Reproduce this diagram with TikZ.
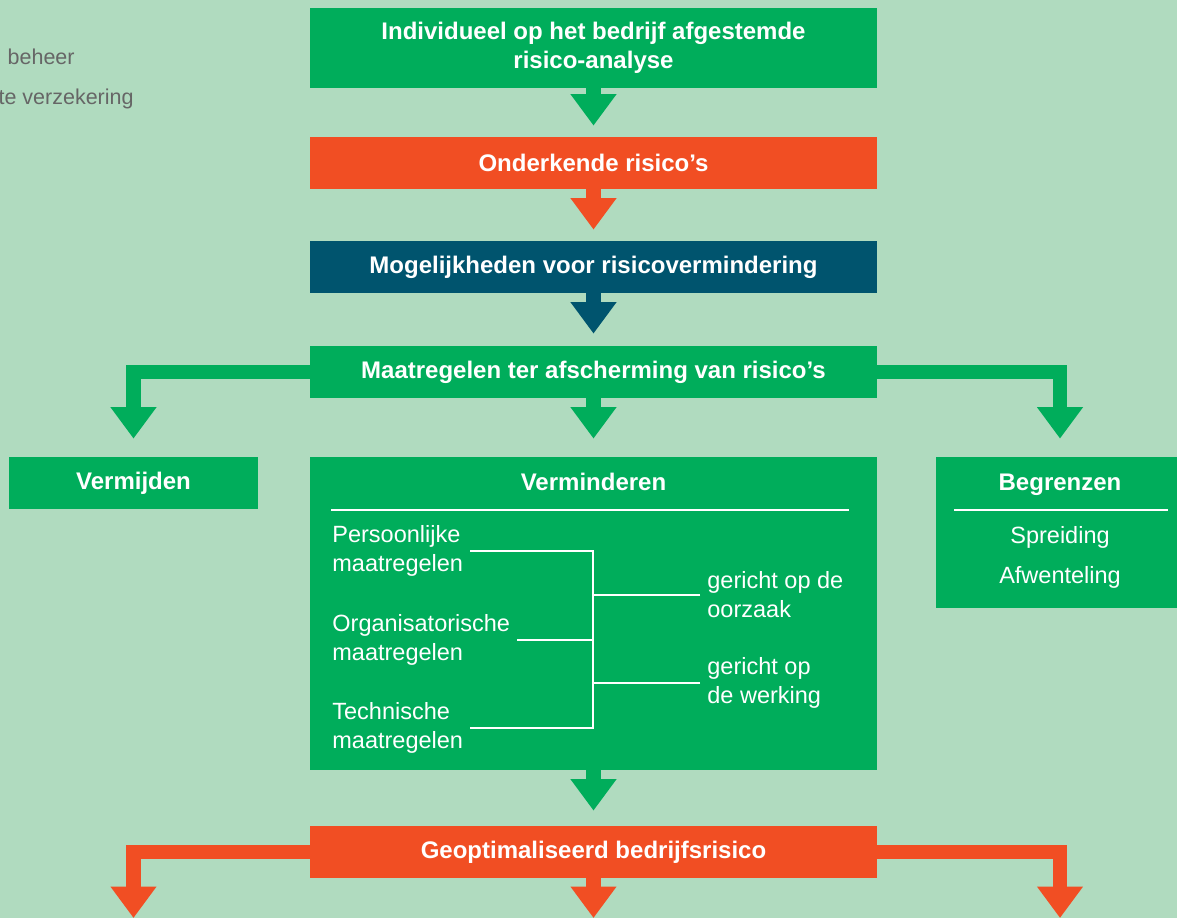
\documentclass[tikz,border=0pt]{standalone}
\usepackage{fontspec}
\setmainfont{Liberation Sans}
\usetikzlibrary{arrows.meta}
\definecolor{bgcol}{RGB}{176,219,191}
\definecolor{boxgreen}{RGB}{0,173,91}
\definecolor{boxorange}{RGB}{241,78,35}
\definecolor{boxteal}{RGB}{0,84,110}
\definecolor{greytxt}{RGB}{102,102,102}

\begin{document}
\begin{tikzpicture}[x=0.5pt, y=-0.5pt,
    box/.style={text=white, inner sep=0pt, minimum width=283.5pt, minimum height=26pt, align=center, font=\fontsize{12pt}{14.5pt}\selectfont\bfseries},
    gbox/.style={box, fill=boxgreen},
    obox/.style={box, fill=boxorange},
    tbox/.style={box, fill=boxteal},
    head/.style={text=white, inner sep=0pt, anchor=base, font=\fontsize{12pt}{14.5pt}\selectfont\bfseries},
    wtext/.style={text=white, inner sep=3.5pt, align=left, font=\fontsize{11.75pt}{14.5pt}\selectfont},
    greytext/.style={text=greytxt, inner sep=0pt, font=\fontsize{10.75pt}{13pt}\selectfont},
    wline/.style={draw=white, line width=1.3pt},
    arr/.style={line width=7.25pt, -{Triangle[width=22pt,length=15.75pt]}}
    ]

    \useasboundingbox (0,0) rectangle (1177,918);
    \clip (0,0) rectangle (1177,918);
    \fill [bgcol] (0,0) rectangle (1177,918);

    \node (beh) at (75,64) [greytext, anchor=base east] {beheer};
    \node (verz) at (134,104) [greytext, anchor=base east] {te verzekering};

    \node (ind) at (593.5,48) [gbox, minimum height=40pt] {Individueel op het bedrijf afgestemde\\risico-analyse};
    \node (ond) at (593.5,163) [obox] {Onderkende risico’s};
    \node (mog) at (593.5,267) [tbox] {Mogelijkheden voor risicovermindering};
    \node (maat) at (593.5,372) [gbox] {Maatregelen ter afscherming van risico’s};
    \node (vmij) at (133.5,483) [gbox, minimum width=124.5pt] {Vermijden};
    \node (verm) at (593.5,613.5) [gbox, minimum height=156.5pt] {};
    \node (begr) at (1060,532.5) [gbox, minimum width=124pt, minimum height=75.5pt] {};
    \node (geo) at (593.5,852) [obox] {Geoptimaliseerd bedrijfsrisico};

    \node (vtitle) at (593.5,490) [head] {Verminderen};
    \node (pers) at (325,551) [wtext, anchor=west] {Persoonlijke\\maatregelen};
    \node (org) at (325,640) [wtext, anchor=west] {Organisatorische\\maatregelen};
    \node (tech) at (325,728) [wtext, anchor=west] {Technische\\maatregelen};
    \node (oorz) at (700,595) [wtext, anchor=west] {gericht op de\\oorzaak};
    \node (werk) at (700,683) [wtext, anchor=west] {gericht op\\de werking};
    \coordinate (knot) at (593,640);

    \node (btitle) at (1060,490) [head] {Begrenzen};
    \node (spr) at (1060,537) [wtext] {Spreiding};
    \node (afw) at (1060,577) [wtext] {Afwenteling};

    \coordinate (outl) at (133.5,918);
    \coordinate (outm) at (593.5,918);
    \coordinate (outr) at (1060,918);

    \draw [wline] (331,510) -- (849,510);
    \draw [wline] (954,510) -- (1168,510);
    \draw [wline] (pers) -| (knot) |- (tech);
    \draw [wline] (org) -- (knot);
    \draw [wline] (oorz.west) -- (oorz.west -| knot);
    \draw [wline] (werk.west) -- (werk.west -| knot);

    \draw [arr, boxgreen, shorten >=5.5pt] (ind) to (ond);
    \draw [arr, boxorange, shorten >=5.5pt] (ond) to (mog);
    \draw [arr, boxteal, shorten >=6pt] (mog) to (maat);
    \draw [arr, boxgreen, shorten >=9pt] (maat) to (verm);
    \draw [arr, boxgreen, shorten >=9pt] (maat) -| (vmij);
    \draw [arr, boxgreen, shorten >=9pt] (maat) -| (begr);
    \draw [arr, boxgreen, shorten >=7.5pt] (verm) to (geo);
    \draw [arr, boxorange] (geo) -| (outl);
    \draw [arr, boxorange] (geo) to (outm);
    \draw [arr, boxorange] (geo) -| (outr);

  \end{tikzpicture}
\end{document}
